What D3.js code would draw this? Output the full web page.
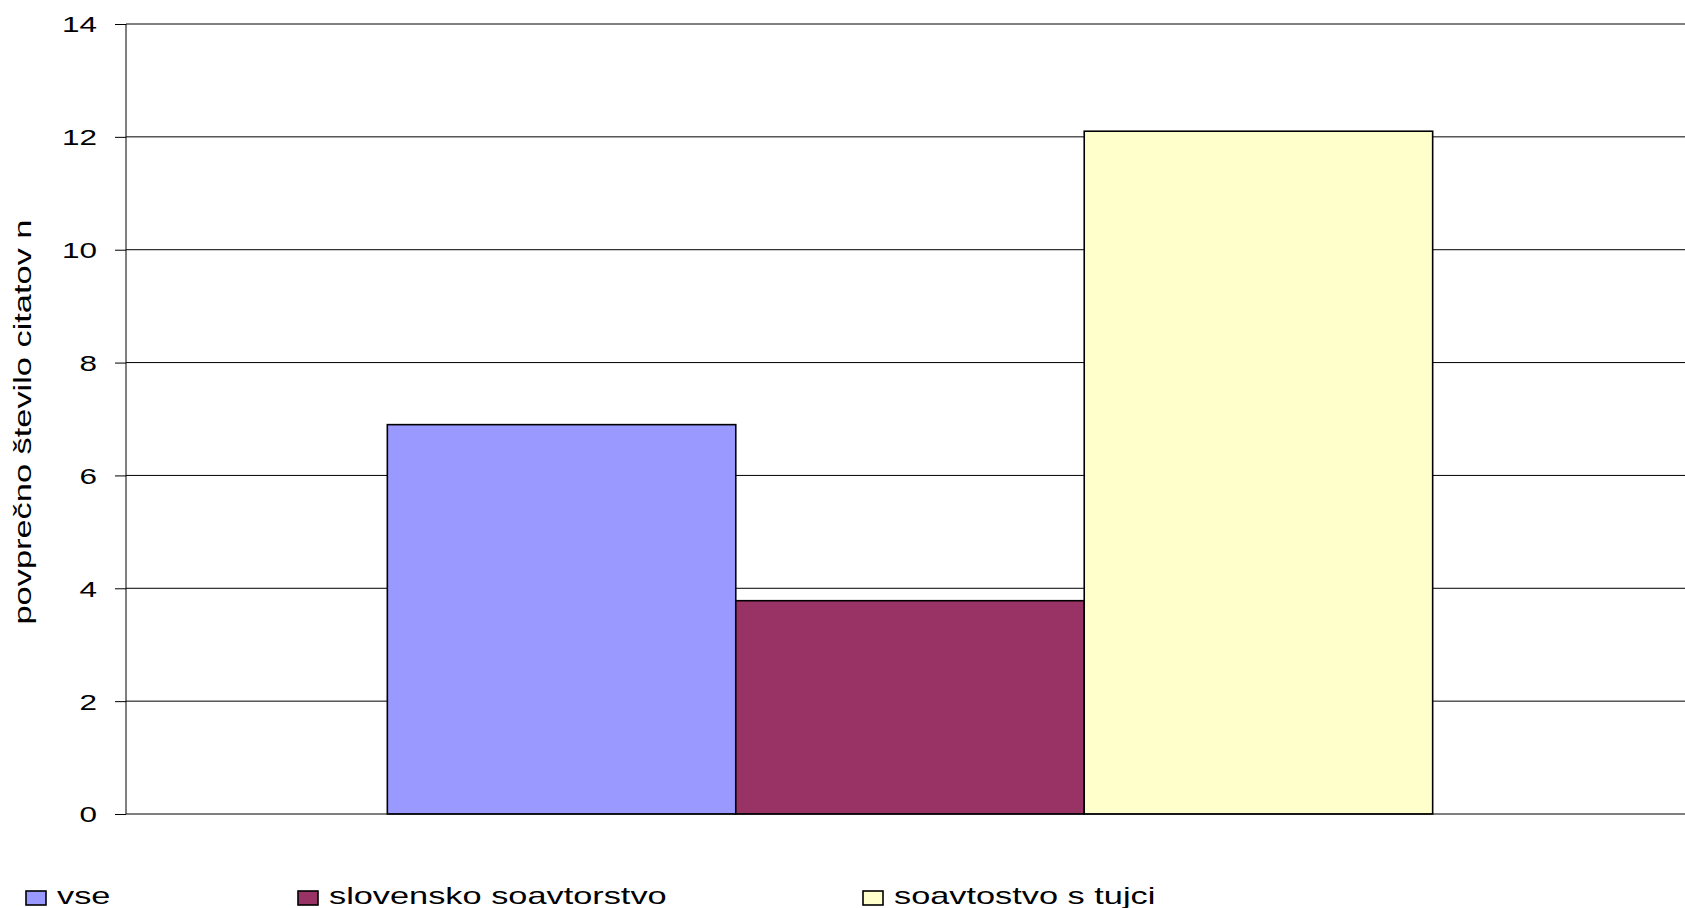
<!DOCTYPE html>
<html>
<head>
<meta charset="utf-8">
<script src="https://cdn.jsdelivr.net/npm/d3@7"></script>
<style>
  html, body { margin: 0; padding: 0; background: #fff; }
  svg { display: block; }
  text { font-family: "Liberation Sans", Arial, sans-serif; fill: #000; }
</style>
</head>
<body>
<svg id="chart" width="1685" height="908"></svg>
<script>
// ---- data ----
const categories = ["povprečje"];
const seriesNames = ["vse", "slovensko soavtorstvo", "soavtostvo s tujci"];
const seriesValues = [6.9, 3.78, 12.1];
const seriesColors = ["#9999FF", "#993366", "#FFFFCC"];
const yTicks = [0, 2, 4, 6, 8, 10, 12, 14];
const yTitle = "povprečno število citatov n";

// ---- layout ----
const W = 1685, H = 908;
const plot = { left: 126, right: 1694, top: 24, bottom: 814 };
const stretch = 1.43;

const svg = d3.select("#chart");

const y = d3.scaleLinear().domain([0, 14]).range([plot.bottom, plot.top]);
const x0 = d3.scaleBand().domain(categories).range([plot.left, plot.right])
  .paddingInner(0).paddingOuter(0.25);
const x1 = d3.scaleBand().domain(seriesNames).range([0, x0.bandwidth()]).padding(0);

function stretchText(sel, factor) {
  sel.each(function () {
    const len = this.getComputedTextLength();
    this.setAttribute("textLength", len * factor);
    this.setAttribute("lengthAdjust", "spacingAndGlyphs");
  });
}

// gridlines
svg.append("g").selectAll("line").data(yTicks.filter(d => d > 0)).join("line")
  .attr("x1", plot.left).attr("x2", plot.right)
  .attr("y1", d => y(d)).attr("y2", d => y(d))
  .attr("stroke", "#000").attr("stroke-width", 1);

// bars
const gCat = svg.append("g").selectAll("g").data(categories).join("g")
  .attr("transform", d => `translate(${x0(d)},0)`);
gCat.selectAll("rect").data(seriesNames.map((s, i) => ({ s, v: seriesValues[i], c: seriesColors[i] })))
  .join("rect")
  .attr("x", d => x1(d.s))
  .attr("width", x1.bandwidth())
  .attr("y", d => y(d.v))
  .attr("height", d => y(0) - y(d.v))
  .attr("fill", d => d.c)
  .attr("stroke", "#000").attr("stroke-width", 1.6);

// y axis
const yAxis = d3.axisLeft(y).tickValues(yTicks).tickSize(11).tickPadding(18).tickFormat(d3.format("d"));
const gy = svg.append("g").attr("transform", `translate(${plot.left},0)`).call(yAxis);
gy.select(".domain").remove();
gy.selectAll(".tick line").attr("stroke", "#000");
gy.selectAll(".tick text").attr("font-size", 22).attr("dy", "0.36em")
  .style("font-family", '"Liberation Sans", Arial, sans-serif');
stretchText(gy.selectAll(".tick text"), stretch);
svg.append("line").attr("x1", plot.left).attr("x2", plot.left)
  .attr("y1", plot.top).attr("y2", plot.bottom).attr("stroke", "#000");
// x axis baseline
svg.append("line").attr("x1", plot.left).attr("x2", plot.right)
  .attr("y1", y(0)).attr("y2", y(0)).attr("stroke", "#000");

// y title
const yt = svg.append("text")
  .attr("transform", `translate(31,${(plot.top + plot.bottom) / 2 + 3}) rotate(-90)`)
  .attr("text-anchor", "middle")
  .attr("font-size", 23)
  .text(yTitle);
yt.attr("textLength", 405).attr("lengthAdjust", "spacingAndGlyphs");

// legend
const legendX = [26, 298, 863];
const lg = svg.append("g").selectAll("g").data(seriesNames).join("g")
  .attr("transform", (d, i) => `translate(${legendX[i]},891)`);
lg.append("rect").attr("width", 20).attr("height", 14)
  .attr("fill", (d, i) => seriesColors[i]).attr("stroke", "#000").attr("stroke-width", 1.6);
const lt = lg.append("text").attr("x", 31).attr("y", 13).attr("font-size", 24).text(d => d);
stretchText(lt, stretch);
</script>
</body>
</html>
